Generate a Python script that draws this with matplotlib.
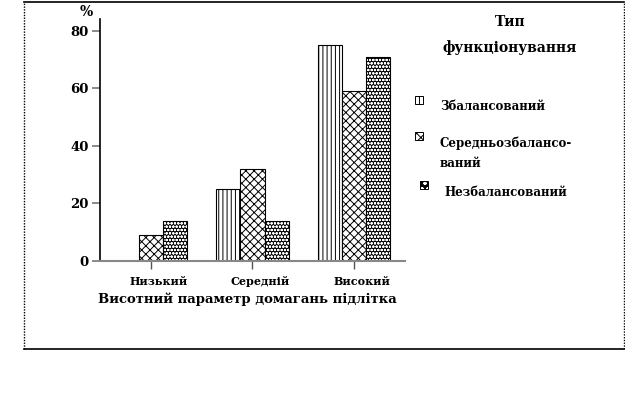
import matplotlib
matplotlib.use("Agg")
import matplotlib.pyplot as plt
from matplotlib.patches import Rectangle
from matplotlib.lines import Line2D
import matplotlib.transforms as mtransforms
import numpy as np

categories = ["Низький", "Середній", "Високий"]
series_names = ["Збалансований", "Середньозбалансо-\nваний", "Незбалансований"]
balanced = [0, 25, 75]
mid_balanced = [9, 32, 59]
unbalanced = [14, 14, 71]
series_values = [balanced, mid_balanced, unbalanced]
y_ticks = [0, 20, 40, 60, 80]

serif = ["DejaVu Serif"]
plt.rcParams["font.family"] = serif
plt.rcParams["hatch.linewidth"] = 0.7

fig = plt.figure(figsize=(6.25, 3.94), dpi=100)
ax = fig.add_axes([0.16, 0.3376, 0.488, 0.614])

x = np.arange(len(categories))
w = 0.237
offsets = [-w, 0, w]

ax.bar(x + offsets[0], series_values[0], w, facecolor="white", edgecolor="black",
       hatch="||||", linewidth=0.8)
ax.bar(x + offsets[1], series_values[1], w, facecolor="white", edgecolor="black",
       hatch="xxxx", linewidth=0.8)
ax.bar(x + offsets[2], series_values[2], w, facecolor="black", edgecolor="white",
       hatch="ooooo", linewidth=0)
ax.bar(x + offsets[2], series_values[2], w, fill=False, edgecolor="black", linewidth=0.8)

ax.set_xlim(-0.5, 2.5)
ax.set_ylim(0, 84)
ax.set_yticks(y_ticks)
ax.set_yticklabels([str(v) for v in y_ticks], fontsize=9.5, fontweight="bold")
ax.set_xticks(x)
ax.set_xticklabels(categories, fontsize=8, fontweight="bold")
ax.tick_params(axis="y", length=6, width=1.2, color="#777777", pad=2)
ax.tick_params(axis="x", length=6, width=1.0, color="#555555", pad=5)
shift = mtransforms.ScaledTranslation(8 / 100, 0, fig.dpi_scale_trans)
for lab in ax.get_xticklabels():
    lab.set_transform(lab.get_transform() + shift)

for s in ["top", "right"]:
    ax.spines[s].set_visible(False)
ax.spines["left"].set_color("black")
ax.spines["left"].set_linewidth(1.2)
ax.spines["bottom"].set_color("#888888")
ax.spines["bottom"].set_linewidth(1.5)

ax.set_xlabel("Висотний параметр домагань підлітка", fontsize=9.5, fontweight="bold", labelpad=2)
ax.xaxis.set_label_coords(0.483, -0.13)
ax.text(-0.045, 1.0, "%", transform=ax.transAxes, fontsize=10, fontweight="bold",
        ha="center", va="bottom")

fig.text(510 / 625, 1 - 22 / 394, "Тип", fontsize=10, fontweight="bold", ha="center", va="center")
fig.text(510 / 625, 1 - 48 / 394, "функціонування", fontsize=10, fontweight="bold",
         ha="center", va="center")

leg_hatches = [("white", "black", "|||"), ("white", "black", "xxxx"), ("black", "white", "ooo")]
icon_pos = [(415, 96), (415, 132), (420, 181)]
label_pos = [(440, 106), (440, 143), (444, 192)]
sz = 8
for (fc, ec, h), (ix, iy), (lx, ly), name in zip(leg_hatches, icon_pos, label_pos, series_names):
    r = Rectangle((ix / 625, 1 - (iy + sz) / 394), sz / 625, sz / 394, transform=fig.transFigure,
                  facecolor=fc, edgecolor=ec, hatch=h, linewidth=0.0 if fc == "black" else 0.7)
    fig.add_artist(r)
    if fc == "black":
        fig.add_artist(Rectangle((ix / 625, 1 - (iy + sz) / 394), sz / 625, sz / 394,
                                 transform=fig.transFigure, fill=False, edgecolor="black", linewidth=0.7))
    if "\n" in name:
        a, b = name.split("\n")
        fig.text(lx / 625, 1 - ly / 394, a, fontsize=8.5, fontweight="bold", va="center")
        fig.text(lx / 625, 1 - (ly + 20) / 394, b, fontsize=8.5, fontweight="bold", va="center")
    else:
        fig.text(lx / 625, 1 - ly / 394, name, fontsize=8.5, fontweight="bold", va="center")

L, R, T, B = 24 / 625, 624 / 625, 1 - 1.5 / 394, 1 - 349 / 394
fig.add_artist(Line2D([L, R], [T, T], transform=fig.transFigure, color="black", lw=1.2))
fig.add_artist(Line2D([L, R], [B, B], transform=fig.transFigure, color="black", lw=1.2))
fig.add_artist(Line2D([L, L], [B, T], transform=fig.transFigure, color="black", lw=1.0, ls=(0, (1, 1))))
fig.add_artist(Line2D([R, R], [B, T], transform=fig.transFigure, color="black", lw=1.0, ls=(0, (1, 1))))

fig.savefig("out.png", dpi=100)
